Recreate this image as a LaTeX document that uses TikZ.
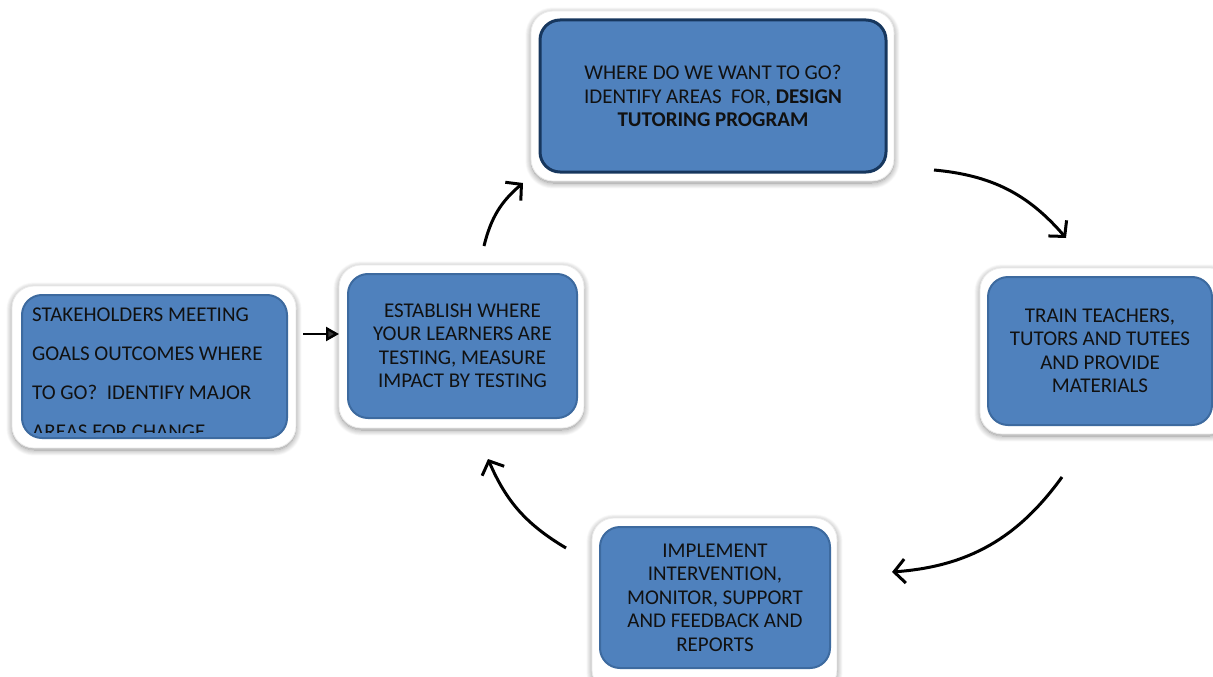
\documentclass[tikz,border=0pt]{standalone}
\usepackage{fontspec}
\setmainfont{Carlito}
\usetikzlibrary{arrows.meta,shadows.blur}
\definecolor{boxblue}{HTML}{4F81BD}
\definecolor{boxedge}{HTML}{3D6A9F}
\definecolor{navy}{HTML}{17375E}
\definecolor{txt}{HTML}{111111}
\tikzset{
  outerbox/.style={fill=white, draw=black!8, line width=0.8pt, rounded corners=22pt,
    blur shadow={shadow blur steps=12, shadow xshift=0pt, shadow yshift=-2pt, shadow opacity=45, shadow blur radius=6pt}},
  bluebox/.style={fill=boxblue, draw=boxedge, line width=2pt, rounded corners=20pt,
    text=txt, font=\fontsize{21}{23.5}\selectfont, align=center, inner sep=0pt},
  curvearrow/.style={line width=3pt, -{Straight Barb[length=11pt,width=24pt,line width=3pt]}},
  filledarrow/.style={line width=2.4pt, -{Triangle[length=13pt,width=14pt]}}
}
\begin{document}
\begin{tikzpicture}[x=1pt,y=-1pt]
\useasboundingbox (0,0) rectangle (1213,677);
\clip (0,0) rectangle (1213,677);
% outer white frames
\path[outerbox] (531,11) rectangle (894,181);
\path[outerbox] (12,286) rectangle (296,448);
\path[outerbox] (339,265) rectangle (584,428);
\path[outerbox] (980,268) rectangle (1232,434);
\path[outerbox] (592,518) rectangle (837,692);
% blue boxes
\node[bluebox, draw=navy, line width=3pt, minimum width=346pt, minimum height=152pt] (top) at (713,96)
  {WHERE DO WE WANT TO GO?\\IDENTIFY AREAS\ \ FOR, \textbf{DESIGN}\\\textbf{TUTORING PROGRAM}};
\node[bluebox, minimum width=265pt, minimum height=143pt] (stake) at (154.5,366.5) {};
\node[bluebox, minimum width=229pt, minimum height=144pt] (establish) at (462.5,346)
  {ESTABLISH WHERE\\YOUR LEARNERS ARE\\TESTING, MEASURE\\IMPACT BY TESTING};
\node[bluebox, minimum width=224pt, minimum height=148pt] (train) at (1100,351)
  {TRAIN TEACHERS,\\TUTORS AND TUTEES\\AND PROVIDE\\MATERIALS};
\node[bluebox, minimum width=230pt, minimum height=141pt] (implement) at (715,597.5)
  {IMPLEMENT\\INTERVENTION,\\MONITOR, SUPPORT\\AND FEEDBACK AND\\REPORTS};
% clipped stakeholder text
\begin{scope}
  \clip (22,295) rectangle (287,432);
  \node[anchor=north west, inner sep=0pt, align=left, text=txt,
        font=\fontsize{21}{39}\selectfont] (staketext) at (32,308)
    {STAKEHOLDERS MEETING\\GOALS OUTCOMES WHERE\\TO GO?\ \ IDENTIFY MAJOR\\AREAS FOR CHANGE};
\end{scope}
% arrow end points
\coordinate (a1s) at (484,246);  \coordinate (a1e) at (523,183);
\coordinate (a2s) at (934,170);  \coordinate (a2e) at (1066,238);
\coordinate (a3s) at (1062,477); \coordinate (a3e) at (892,572);
\coordinate (a4s) at (566,548);  \coordinate (a4e) at (488,459);
\coordinate (a0s) at (303,334);
% arrows
\draw[filledarrow, shorten >=8pt] (a0s) -- (a0s -| establish.west);
\draw[curvearrow] (a1s) to[bend left=18] (a1e);
\draw[curvearrow] (a2s) to[bend left=22] (a2e);
\draw[curvearrow] (a3s) to[bend left=25] (a3e);
\draw[curvearrow] (a4s) to[bend left=18] (a4e);
\end{tikzpicture}
\end{document}
